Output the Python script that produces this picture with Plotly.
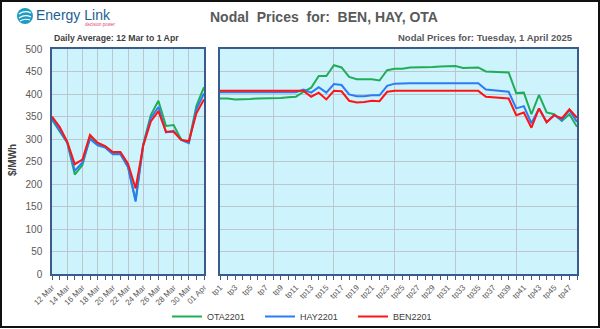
import plotly.graph_objects as go

# ---------------- data ----------------
days = ["2025-03-12", "2025-03-13", "2025-03-14", "2025-03-15", "2025-03-16", "2025-03-17",
        "2025-03-18", "2025-03-19", "2025-03-20", "2025-03-21", "2025-03-22", "2025-03-23",
        "2025-03-24", "2025-03-25", "2025-03-26", "2025-03-27", "2025-03-28", "2025-03-29",
        "2025-03-30", "2025-03-31", "2025-04-01"]
ota_daily = [343, 316, 292, 221, 242, 304, 289, 282, 268, 268, 238, 164, 288, 353, 385, 329, 331, 299, 292, 374, 415]
hay_daily = [346, 320, 293, 229, 248, 300, 286, 281, 266, 266, 238, 161, 287, 346, 371, 315, 318, 298, 291, 366, 401]
ben_daily = [350, 327, 294, 244, 254, 309, 292, 284, 271, 271, 245, 190, 285, 339, 362, 316, 316, 298, 295, 357, 388]

periods = list(range(1, 49))
period_labels = [f"tp{p}" if p % 2 == 1 else "" for p in periods]
ota_tp = [390, 390, 388, 388, 389, 390, 390, 390, 391, 393,
          394, 405, 414, 440, 440, 464, 459, 438, 433, 433,
          433, 430, 453, 456, 456, 459, 459, 460, 460, 461,
          461, 462, 458, 458, 459, 450, 449, 448, 448, 402,
          403, 355, 398, 359, 355, 340, 355, 327]
hay_tp = [404] * 11 + [410, 403, 415, 403, 422, 420, 399, 395, 395, 397, 397, 418, 423] + [424] * 11 + \
         [410, 408, 407, 405, 368, 373, 335, 368, 338, 353, 342, 364, 338]
ben_tp = [407] * 12 + [394, 403, 388, 407, 406, 385, 381, 382, 385, 384, 405, 407] + [407] * 11 + \
         [394, 393, 392, 390, 353, 359, 325, 368, 337, 353, 346, 366, 347]
grid_periods = [8, 16, 24, 32, 40, 48]

series = [("OTA2201", ota_daily, ota_tp, "#21ad57"),
          ("HAY2201", hay_daily, hay_tp, "#2b7bf5"),
          ("BEN2201", ben_daily, ben_tp, "#ff1414")]

# ---------------- layout helpers ----------------
W, H = 600, 329
def px(x): return x / W
def py(y): return 1 - y / H

BG = "#cdf3fd"
GRID = "#bdc6cc"
FRAME = "#3b5b8c"
GRAY = "#595959"
FONT = "Liberation Sans"

fig = go.Figure()
for name, dvals, tvals, col in series:
    fig.add_trace(go.Scatter(x=days, y=dvals, mode="lines", name=name,
                             line=dict(color=col, width=2), xaxis="x", yaxis="y",
                             showlegend=False))
for name, dvals, tvals, col in series:
    fig.add_trace(go.Scatter(x=periods, y=tvals, mode="lines", name=name,
                             line=dict(color=col, width=2), xaxis="x2", yaxis="y2"))

axis_common = dict(showline=True, linecolor=FRAME, linewidth=1.5, mirror=True,
                   gridcolor=GRID, gridwidth=1, zeroline=False, automargin=False)

fig.update_layout(
    width=W, height=H,
    margin=dict(l=0, r=0, t=0, b=0, autoexpand=False),
    paper_bgcolor="white",
    plot_bgcolor=BG,
    font=dict(family=FONT, color=GRAY),
    xaxis=dict(domain=[px(52), px(204)], anchor="y", type="date",
               range=[days[0], days[-1]], tick0=days[0], dtick=2 * 86400000,
               tickformat="%d %b", tickangle=-45, ticks="outside", ticklen=4,
               tickcolor=FRAME, tickfont=dict(size=8, color=GRAY), showgrid=True,
               minor=dict(dtick=86400000, ticks="outside", ticklen=4, tickcolor=FRAME, showgrid=False),
               **axis_common),
    yaxis=dict(domain=[py(274), py(49)], anchor="x", range=[0, 500], dtick=50,
               ticks="", tickfont=dict(size=10, color=GRAY), ticklabelstandoff=6,
               showgrid=True, **axis_common),
    xaxis2=dict(domain=[px(220), px(577)], anchor="y2", range=[1, 48],
                tickmode="array", tickvals=periods, ticktext=period_labels,
                tickangle=-45, ticks="outside", ticklen=4, tickcolor=FRAME,
                tickfont=dict(size=8, color=GRAY), showgrid=False,
                minor=dict(tickmode="array", tickvals=grid_periods, ticks="", showgrid=True,
                           gridcolor=GRID, gridwidth=1),
                **axis_common),
    yaxis2=dict(domain=[py(274), py(49)], anchor="x2", range=[0, 500], dtick=50,
                showticklabels=False, ticks="", showgrid=True, **axis_common),
    legend=dict(orientation="h", x=px(167), y=py(302), xanchor="left", yanchor="top",
                font=dict(size=9, color="#404040"), bgcolor="rgba(0,0,0,0)",
                entrywidth=48, entrywidthmode="pixels", itemwidth=30),
    showlegend=True,
)

annotations = [
    dict(text="<b>Nodal  Prices  for:  BEN, HAY, OTA</b>", x=px(324), y=py(17),
         font=dict(size=14, color=GRAY, family=FONT)),
    dict(text="<b>Daily Average: 12 Mar to 1 Apr</b>", x=px(52), y=py(38), xanchor="left",
         font=dict(size=8.7, color="#404040", family=FONT)),
    dict(text="<b>Nodal Prices for: Tuesday, 1 April 2025</b>", x=px(575), y=py(38), xanchor="right",
         font=dict(size=9.5, color=GRAY, family=FONT)),
    dict(text="<b>$/MWh</b>", x=px(12), y=py(160), textangle=-90,
         font=dict(size=10, color="#404040", family=FONT)),
    dict(text="Energy Link", x=px(34), y=py(15), xanchor="left",
         font=dict(size=14, color="#1d5e93", family=FONT)),
    dict(text="decision power", x=px(100), y=py(25),
         font=dict(size=4.5, color="#e0457b", family=FONT)),
]
for a in annotations:
    a.setdefault("xanchor", "center")
    a.update(xref="paper", yref="paper", showarrow=False, yanchor="middle")
fig.update_layout(annotations=annotations)

shapes = [
    # outer frame
    dict(type="rect", x0=px(1), x1=px(599), y0=py(327), y1=py(1),
         line=dict(color="#111111", width=2)),
    # logo icon
    dict(type="circle", x0=px(17), x1=px(33), y0=py(24), y1=py(8),
         fillcolor="#1e9cc2", line=dict(width=0)),
    dict(type="path", path=f"M {px(19)},{py(14)} Q {px(25)},{py(10)} {px(31)},{py(13)}",
         line=dict(color="white", width=1.3)),
    dict(type="path", path=f"M {px(19)},{py(18)} Q {px(25)},{py(14)} {px(31)},{py(17)}",
         line=dict(color="white", width=1.3)),
    dict(type="path", path=f"M {px(20)},{py(21)} Q {px(25)},{py(18)} {px(30)},{py(20)}",
         line=dict(color="white", width=1.1)),
]
for s in shapes:
    s.update(xref="paper", yref="paper")
fig.update_layout(shapes=shapes)

fig.write_html("out.html")
